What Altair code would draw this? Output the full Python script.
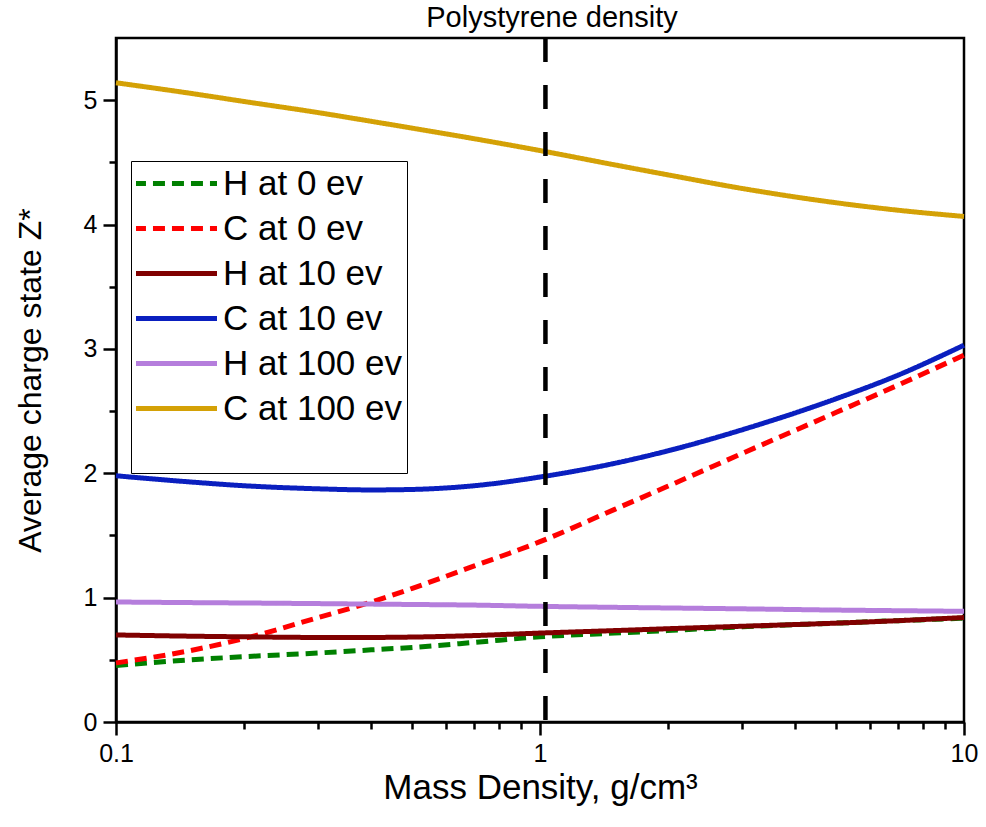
import altair as alt
import pandas as pd

# Mass density grid (g/cm^3), log-spaced sampling points
density = [0.1, 0.15, 0.2, 0.3, 0.4, 0.5, 0.7, 1.0, 1.5, 2, 3, 5, 7, 10]

# Average charge state Z* for each species / temperature
h_0ev = [0.455, 0.50, 0.525, 0.555, 0.58, 0.60, 0.64, 0.685, 0.715, 0.735, 0.765, 0.795, 0.815, 0.835]
c_0ev = [0.475, 0.575, 0.67, 0.84, 0.965, 1.075, 1.255, 1.45, 1.71, 1.895, 2.16, 2.49, 2.71, 2.95]
h_10ev = [0.70, 0.69, 0.685, 0.68, 0.68, 0.683, 0.695, 0.715, 0.735, 0.75, 0.77, 0.795, 0.815, 0.84]
c_10ev = [1.98, 1.93, 1.90, 1.875, 1.866, 1.87, 1.90, 1.97, 2.08, 2.18, 2.35, 2.60, 2.79, 3.03]
h_100ev = [0.965, 0.96, 0.957, 0.952, 0.948, 0.945, 0.94, 0.93, 0.922, 0.917, 0.91, 0.90, 0.895, 0.89]
c_100ev = [5.14, 5.055, 4.99, 4.90, 4.83, 4.775, 4.69, 4.595, 4.48, 4.40, 4.29, 4.175, 4.115, 4.065]

series_names = ["H at 0 ev", "C at 0 ev", "H at 10 ev", "C at 10 ev", "H at 100 ev", "C at 100 ev"]
series_values = [h_0ev, c_0ev, h_10ev, c_10ev, h_100ev, c_100ev]
series_colors = ["#008000", "#FF0000", "#800000", "#0A1FBF", "#B57EDC", "#D4A106"]
series_dashes = [[12, 7], [12, 7], [1, 0], [1, 0], [1, 0], [1, 0]]

# Reference density of polystyrene
polystyrene_density = [1.03]

x_ticks = [0.1, 0.2, 0.3, 0.4, 0.5, 0.6, 0.7, 0.8, 0.9, 1, 2, 3, 4, 5, 6, 7, 8, 9, 10]
y_ticks = [0, 0.5, 1, 1.5, 2, 2.5, 3, 3.5, 4, 4.5, 5]

FONT = "Liberation Sans"

rows = []
for order, (name, vals) in enumerate(zip(series_names, series_values)):
    for d, z in zip(density, vals):
        rows.append({"series": name, "density": d, "z": z, "order": order})
curves = pd.DataFrame(rows)
marker = pd.DataFrame({"density": polystyrene_density})

x_scale = alt.Scale(type="log", domain=[0.1, 10], nice=False)
y_scale = alt.Scale(domain=[0, 5.5], nice=False)

x_axis = alt.Axis(
    values=x_ticks,
    labelExpr="indexof([0.1, 1, 10], datum.value) >= 0 ? datum.value : ''",
    tickSize={"condition": {"test": "indexof([0.1, 1, 10], datum.value) >= 0", "value": 13}, "value": 7},
    title="Mass Density, g/cm³",
    titleFontSize=35,
    labelFlush=False,
    labelPadding=6,
    titlePadding=4,
)
y_axis = alt.Axis(
    values=y_ticks,
    labelExpr="datum.value % 1 === 0 ? format(datum.value, 'd') : ''",
    tickSize={"condition": {"test": "datum.value % 1 === 0", "value": 13}, "value": 7},
    title="Average charge state Z*",
    titleFontSize=32,
    labelPadding=6,
    titlePadding=36,
)

lines = (
    alt.Chart(curves)
    .mark_line(strokeWidth=5, strokeCap="butt", interpolate="monotone")
    .encode(
        x=alt.X("density:Q", scale=x_scale, axis=x_axis),
        y=alt.Y("z:Q", scale=y_scale, axis=y_axis),
        color=alt.Color(
            "series:N",
            scale=alt.Scale(domain=series_names, range=series_colors),
            legend=alt.Legend(title=" "),
        ),
        strokeDash=alt.StrokeDash(
            "series:N",
            scale=alt.Scale(domain=series_names, range=series_dashes),
            legend=alt.Legend(title=" "),
        ),
        order="order:Q",
    )
)

density_rule = (
    alt.Chart(marker)
    .mark_rule(color="black", strokeWidth=4.5, strokeDash=[24, 23])
    .encode(x=alt.X("density:Q", scale=x_scale))
)

chart = (
    alt.layer(lines, density_rule)
    .properties(
        width=848,
        height=684,
        autosize=alt.AutoSizeParams(type="none"),
        padding={"left": 116, "top": 38, "right": 22, "bottom": 105},
        title=alt.TitleParams(
            "Polystyrene density",
            font=FONT,
            fontSize=29,
            fontWeight="normal",
            color="black",
            anchor="middle",
            dx=12,
            offset=3,
        ),
    )
    .configure(font=FONT, background="white")
    .configure_view(stroke="black", strokeWidth=2.5)
    .configure_axis(
        domainColor="black",
        domainWidth=2.5,
        tickColor="black",
        tickWidth=2.5,
        grid=False,
        labelFont=FONT,
        labelFontSize=25,
        labelColor="black",
        titleFont=FONT,
        titleFontWeight="normal",
        titleColor="black",
    )
    .configure_legend(
        orient="none",
        legendX=15,
        legendY=123,
        symbolType="stroke",
        symbolSize=6900,
        symbolStrokeWidth=5,
        symbolOffset=-5,
        clipHeight=35,
        labelFont=FONT,
        labelFontSize=35,
        labelColor="black",
        labelLimit=400,
        labelOffset=3,
        rowPadding=9,
        padding=5,
        fillColor="white",
        strokeColor="black",
        titleOrient="bottom",
        titleFontSize=36,
        titlePadding=6,
    )
)

chart.save("out.html", embed_options={"renderer": "svg", "actions": False})
